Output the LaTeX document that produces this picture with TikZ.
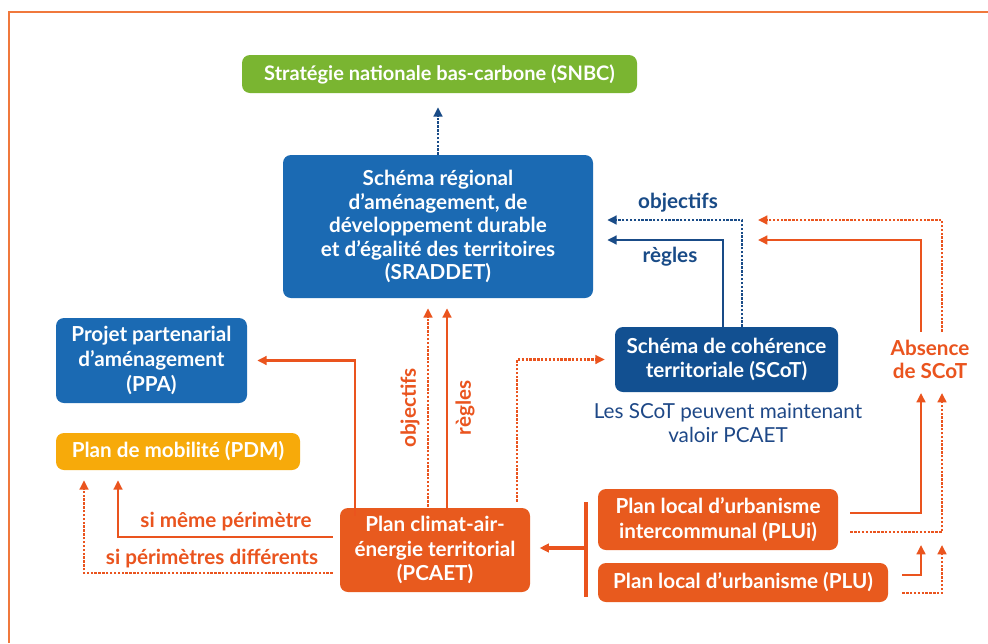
\documentclass[tikz,border=0pt]{standalone}
\usepackage{fontspec}
\setmainfont{Lato}
\usetikzlibrary{arrows.meta}
\definecolor{sradblue}{RGB}{27,106,179}
\definecolor{scotblue}{RGB}{18,80,145}
\definecolor{snbcgreen}{RGB}{122,181,49}
\definecolor{pdmyellow}{RGB}{247,170,10}
\definecolor{boxorange}{RGB}{232,90,30}
\definecolor{arrorange}{RGB}{234,84,30}
\definecolor{arrblue}{RGB}{25,75,135}
\definecolor{framecol}{RGB}{240,120,60}
\definecolor{captblue}{RGB}{30,72,135}
\begin{document}
\begin{tikzpicture}[x=0.75pt,y=-0.75pt,
  boxbase/.style={rounded corners=6pt, text=white, align=center, inner sep=0pt,
    font=\fontsize{15.5}{18.5}\selectfont\bfseries},
  bluebox/.style={boxbase, fill=sradblue},
  scotbox/.style={boxbase, fill=scotblue},
  greenbox/.style={boxbase, fill=snbcgreen},
  yellowbox/.style={boxbase, fill=pdmyellow},
  orangebox/.style={boxbase, fill=boxorange},
  tip/.style={-{Triangle[length=7pt,width=6.5pt]}},
  osolid/.style={tip, draw=arrorange, line width=2pt},
  odot/.style={tip, draw=arrorange, line width=2.2pt, dash pattern=on 1.8pt off 1.1pt},
  bsolid/.style={tip, draw=arrblue, line width=2pt},
  bdot/.style={tip, draw=arrblue, line width=2.2pt, dash pattern=on 1.8pt off 1.1pt},
  olabel/.style={text=arrorange, font=\fontsize{15.5}{17}\selectfont\bfseries, inner sep=0pt},
  blabel/.style={text=arrblue, font=\fontsize{15.5}{17}\selectfont\bfseries, inner sep=0pt},
]
\useasboundingbox (0,0) rectangle (988,643);
\fill[white] (0,0) rectangle (988,643);
\draw[framecol, line width=1.5pt] (9,643) -- (9,12) -- (988,12);

% boxes
\node[greenbox, minimum width=296.25pt, minimum height=28.5pt,
  font=\fontsize{15}{18}\selectfont\bfseries] (snbc) at (439.5,74)
  {Stratégie nationale bas-carbone (SNBC)};
\node[bluebox, minimum width=232.5pt, minimum height=107.25pt,
  font=\fontsize{15.5}{17.6}\selectfont\bfseries] (srad) at (438,226.5)
  {Schéma régional\\d'aménagement, de\\développement durable\\et d'égalité des territoires\\(SRADDET)};
\node[bluebox, minimum width=143.25pt, minimum height=63.75pt] (ppa) at (151.5,360.5)
  {Projet partenarial\\d'aménagement\\(PPA)};
\node[yellowbox, minimum width=183pt, minimum height=27.75pt] (pdm) at (178,451.5)
  {Plan de mobilité (PDM)};
\node[orangebox, minimum width=142.5pt, minimum height=63pt] (pcaet) at (435,550)
  {Plan climat-air-\\énergie territorial\\(PCAET)};
\node[scotbox, minimum width=167.25pt, minimum height=48.75pt,
  font=\fontsize{15.5}{17.5}\selectfont\bfseries] (scot) at (726.5,359.5)
  {Schéma de cohérence\\territoriale (SCoT)};
\node[orangebox, minimum width=180pt, minimum height=45.75pt] (plui) at (718,519.5)
  {Plan local d'urbanisme\\intercommunal (PLUi)};
\node[orangebox, minimum width=217.5pt, minimum height=29.25pt] (plu) at (743,582.5)
  {Plan local d'urbanisme (PLU)};

% texts
\node[text=captblue, align=center, font=\fontsize{15.5}{17.5}\selectfont, inner sep=0pt] (capt) at (728,423)
  {Les SCoT peuvent maintenant\\valoir PCAET};
\node[olabel, align=center, anchor=south, inner sep=4pt] (abs) at (930,384) {Absence\\de SCoT};
\node[blabel] (lobj) at (678,203) {objectifs};
\node[blabel] (lreg) at (670,257) {règles};
\node[olabel, rotate=90] (vobj) at (410,408) {objectifs};
\node[olabel, rotate=90] (vreg) at (465,408) {règles};
\node[olabel] (lmeme) at (226,522) {si même périmètre};
\node[olabel] (ldiff) at (212,559) {si périmètres différents};

% helper coordinates
\coordinate (xobj) at (428,0);
\coordinate (xreg) at (447,0);
\coordinate (xppa) at (355,0);
\coordinate (brktop) at (586,502);
\coordinate (brkbot) at (586,597);
\coordinate (brkmid) at (586,548);
\coordinate (mrg1) at (921,545);
\coordinate (mrg2) at (942,545);
\coordinate (tgt1) at (758,240);
\coordinate (tgt2) at (758,220);

% connectors
\draw[bdot, shorten >=10.5pt] (srad.north) -- (srad.north |- snbc.south);
\draw[odot, shorten >=7.5pt, shorten <=-2pt] (pcaet.north -| xobj) -- (srad.south -| xobj);
\draw[osolid, shorten >=7.5pt, shorten <=-2pt] (pcaet.north -| xreg) -- (srad.south -| xreg);
\draw[osolid, shorten >=7.5pt, shorten <=-6pt] (pcaet.north -| xppa) |- (ppa.east);
\draw[osolid] ([shift={(-7,-13)}]pcaet.west) -| ([shift={(-60,10)}]pdm.south);
\draw[odot] ([shift={(-7,23)}]pcaet.west) -| ([shift={(-94,10)}]pdm.south);
\draw[odot, line width=1.7pt] ([shift={(82,-6)}]pcaet.north) |- ([shift={(-10,0)}]scot.west);
\draw[arrorange, line width=3pt] (brktop) -- (brkbot);
\draw[osolid, line width=3pt, shorten >=7pt] (brkmid) -- (brkmid -| pcaet.east);
\draw[osolid] ([shift={(12,-6.5)}]plui.east) -| ([shift={(-9,9)}]abs.south);
\draw[odot] ([shift={(12,12.5)}]plui.east) -| ([shift={(12,9)}]abs.south);
\draw[osolid] ([shift={(14,-7.5)}]plu.east) -| (mrg1);
\draw[odot] ([shift={(14,10.5)}]plu.east) -| (mrg2);
\draw[osolid] ([shift={(-9,-3)}]abs.north) |- (tgt1);
\draw[odot] ([shift={(12,-3)}]abs.north) |- (tgt2);
\draw[bsolid] ([shift={(-3.5,0)}]scot.north) |- ([shift={(14,13.5)}]srad.east);
\draw[bdot] ([shift={(15.5,0)}]scot.north) |- ([shift={(14,-6.5)}]srad.east);
\end{tikzpicture}
\end{document}
